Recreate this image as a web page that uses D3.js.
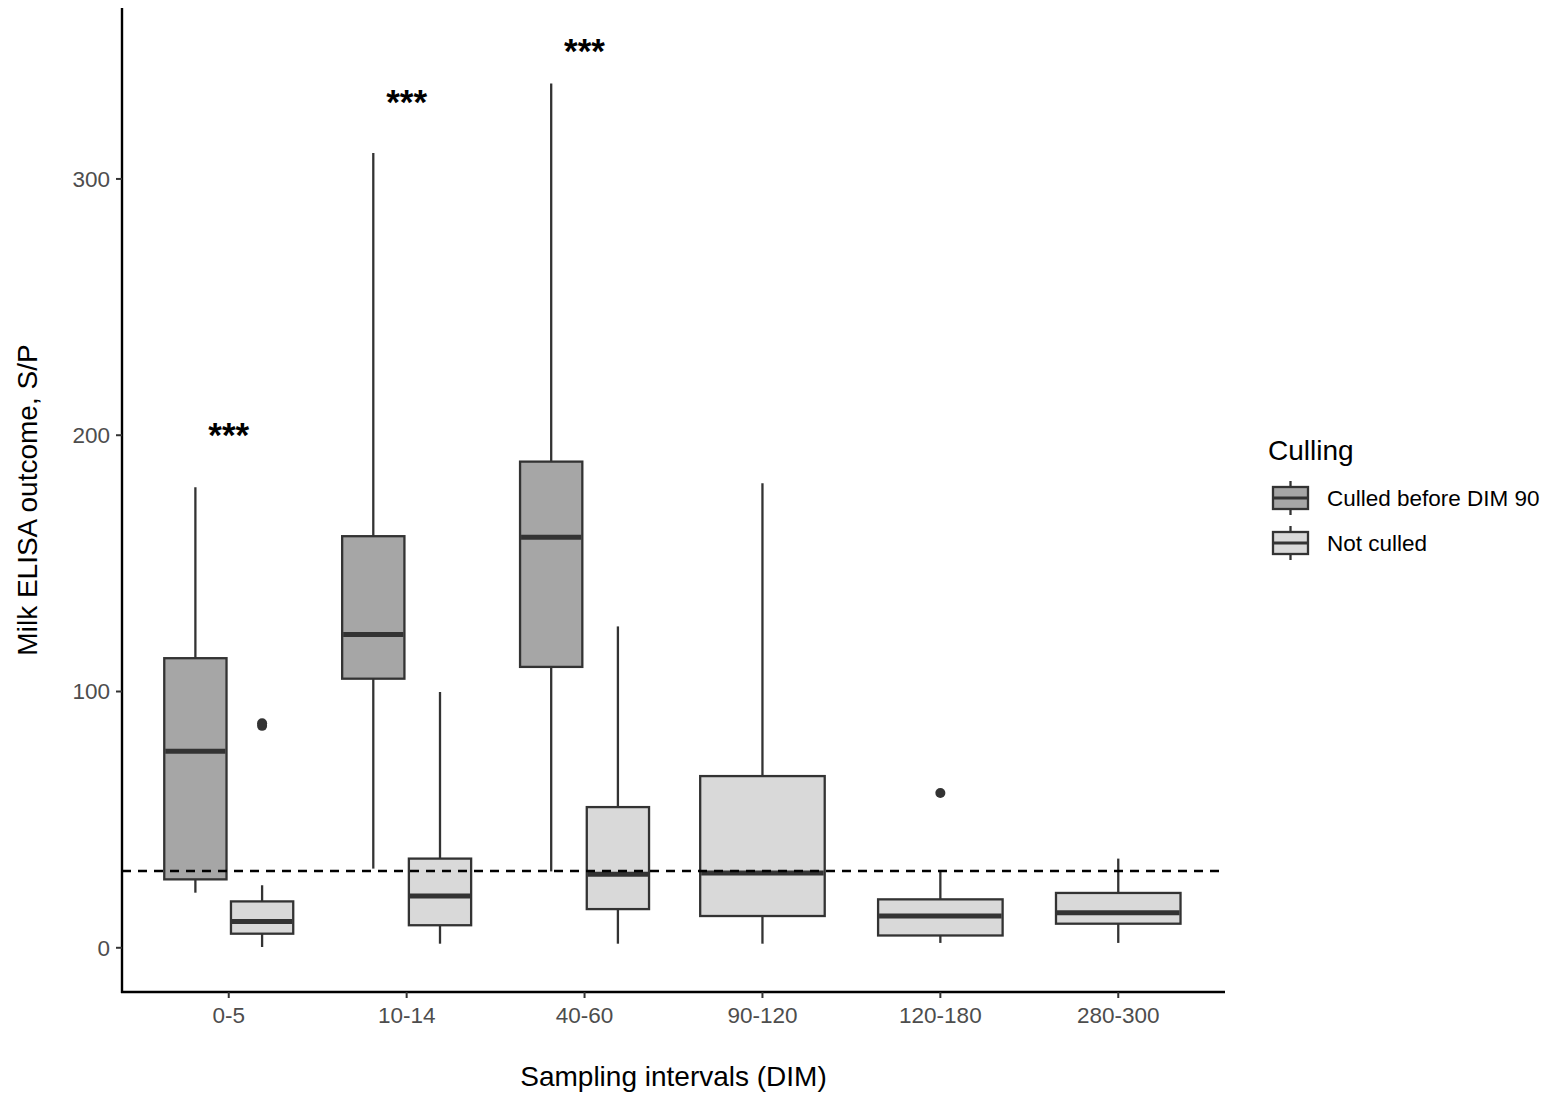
<!DOCTYPE html>
<html>
<head>
<meta charset="utf-8">
<script src="https://d3js.org/d3.v7.min.js"></script>
<style>
  html, body { margin: 0; padding: 0; background: #fff; }
  svg { display: block; font-family: 'Liberation Sans', Arial, sans-serif; }
  .tick-label { fill: #4d4d4d; font-size: 22.5px; }
  .legend-label { fill: #000; font-size: 22.5px; }
  .axis-title { fill: #000; font-size: 28px; }
  .box { stroke: #333; stroke-width: 2.3; }
  .whisker { stroke: #333; stroke-width: 2.3; }
  .median { stroke: #333; stroke-width: 5; }
</style>
</head>
<body>
<svg id="chart" width="1547" height="1098"></svg>
<script>
// values (S/P units)
const categories = ['0-5', '10-14', '40-60', '90-120', '120-180', '280-300'];
const groups = ['Culled before DIM 90', 'Not culled'];
const groupFill = ['#a6a6a6', '#d9d9d9'];

const culledCats = ['0-5', '10-14', '40-60'];
const culledLower = [21.5, 30.9, 29.8];
const culledQ1 = [26.7, 105.0, 109.6];
const culledMedian = [76.7, 122.2, 160.2];
const culledQ3 = [113.0, 160.6, 189.7];
const culledUpper = [179.7, 310.1, 337.2];

const notCulledCats = categories;
const notCulledLower = [0.3, 1.6, 1.6, 1.6, 1.9, 1.9];
const notCulledQ1 = [5.5, 8.8, 15.1, 12.4, 4.8, 9.4];
const notCulledMedian = [10.3, 20.2, 28.7, 29.2, 12.4, 13.7];
const notCulledQ3 = [18.1, 34.8, 54.9, 67.0, 18.9, 21.4];
const notCulledUpper = [24.4, 99.8, 125.4, 181.3, 30.0, 34.8];

const outlierCats = ['0-5', '0-5', '120-180'];
const outlierValues = [86.6, 87.6, 60.4];

const sigCats = ['0-5', '10-14', '40-60'];
const sigValues = [200, 330, 350];
const sigLabel = '***';

const cutoff = 30;
const yTicks = [0, 100, 200, 300];

// plot panel
const panel = { left: 122, right: 1225, top: 8, bottom: 992 };

const svg = d3.select('#chart');
svg.append('rect').attr('width', 1547).attr('height', 1098).attr('fill', '#fff');

const x = d3.scalePoint().domain(categories).range([panel.left, panel.right]).padding(0.6);
const y = d3.scaleLinear().domain([-17.25, 366.7]).range([panel.bottom, panel.top]);
const step = x.step();

// build box rows; dodge only where both groups are present
const boxes = [];
culledCats.forEach((c, i) => boxes.push({
  cat: c, g: 0, lo: culledLower[i], q1: culledQ1[i], med: culledMedian[i], q3: culledQ3[i], hi: culledUpper[i]
}));
notCulledCats.forEach((c, i) => boxes.push({
  cat: c, g: 1, lo: notCulledLower[i], q1: notCulledQ1[i], med: notCulledMedian[i], q3: notCulledQ3[i], hi: notCulledUpper[i]
}));

function slot(cat, g) {
  const dodged = culledCats.includes(cat);
  if (!dodged) return { cx: x(cat), w: 0.7 * step };
  return { cx: x(cat) + (g === 0 ? -0.1875 : 0.1875) * step, w: 0.35 * step };
}
boxes.forEach(b => Object.assign(b, slot(b.cat, b.g)));

const plot = svg.append('g');

// whiskers
plot.selectAll('line.whisker-hi')
  .data(boxes).enter().append('line')
  .attr('class', 'whisker')
  .attr('x1', d => d.cx).attr('x2', d => d.cx)
  .attr('y1', d => y(d.q3)).attr('y2', d => y(d.hi));
plot.selectAll('line.whisker-lo')
  .data(boxes).enter().append('line')
  .attr('class', 'whisker')
  .attr('x1', d => d.cx).attr('x2', d => d.cx)
  .attr('y1', d => y(d.q1)).attr('y2', d => y(d.lo));

// boxes
plot.selectAll('rect.box')
  .data(boxes).enter().append('rect')
  .attr('class', 'box')
  .attr('x', d => d.cx - d.w / 2)
  .attr('width', d => d.w)
  .attr('y', d => y(d.q3))
  .attr('height', d => y(d.q1) - y(d.q3))
  .attr('fill', d => groupFill[d.g]);

// medians
plot.selectAll('line.median')
  .data(boxes).enter().append('line')
  .attr('class', 'median')
  .attr('x1', d => d.cx - d.w / 2 + 1).attr('x2', d => d.cx + d.w / 2 - 1)
  .attr('y1', d => y(d.med)).attr('y2', d => y(d.med));

// outliers (not culled group)
plot.selectAll('circle.outlier')
  .data(outlierCats.map((c, i) => ({ cat: c, v: outlierValues[i] })))
  .enter().append('circle')
  .attr('cx', d => slot(d.cat, 1).cx)
  .attr('cy', d => y(d.v))
  .attr('r', 5)
  .attr('fill', '#333');

// cut-off line
plot.append('line')
  .attr('x1', panel.left).attr('x2', panel.right)
  .attr('y1', y(cutoff)).attr('y2', y(cutoff))
  .attr('stroke', '#000').attr('stroke-width', 2.5)
  .attr('stroke-dasharray', '9,7');

// significance stars
plot.selectAll('text.sig')
  .data(sigCats.map((c, i) => ({ cat: c, v: sigValues[i] })))
  .enter().append('text')
  .attr('x', d => x(d.cat))
  .attr('y', d => y(d.v))
  .attr('dy', '0.34em')
  .attr('text-anchor', 'middle')
  .attr('font-size', 35)
  .attr('font-weight', 'bold')
  .attr('fill', '#000')
  .text(sigLabel);

// axes (drawn by hand to match ggplot classic theme)
const axes = svg.append('g');
axes.append('line').attr('x1', panel.left).attr('x2', panel.left)
  .attr('y1', panel.top).attr('y2', panel.bottom + 1)
  .attr('stroke', '#000').attr('stroke-width', 2.4);
axes.append('line').attr('x1', panel.left - 1).attr('x2', panel.right)
  .attr('y1', panel.bottom).attr('y2', panel.bottom)
  .attr('stroke', '#000').attr('stroke-width', 2.4);

const yt = axes.selectAll('g.ytick').data(yTicks).enter().append('g')
  .attr('transform', d => `translate(0,${y(d)})`);
yt.append('line').attr('x1', panel.left - 6).attr('x2', panel.left).attr('stroke', '#333').attr('stroke-width', 2);
yt.append('text').attr('class', 'tick-label')
  .attr('x', panel.left - 12).attr('dy', '0.35em').attr('text-anchor', 'end')
  .text(d => d);

const xt = axes.selectAll('g.xtick').data(categories).enter().append('g')
  .attr('transform', d => `translate(${x(d)},0)`);
xt.append('line').attr('y1', panel.bottom).attr('y2', panel.bottom + 6).attr('stroke', '#333').attr('stroke-width', 2);
xt.append('text').attr('class', 'tick-label')
  .attr('y', panel.bottom + 31).attr('text-anchor', 'middle')
  .text(d => d);

// axis titles
svg.append('text').attr('class', 'axis-title')
  .attr('x', (panel.left + panel.right) / 2).attr('y', 1086).attr('text-anchor', 'middle')
  .text('Sampling intervals (DIM)');
svg.append('text').attr('class', 'axis-title')
  .attr('transform', `translate(37,${(panel.top + panel.bottom) / 2}) rotate(-90)`)
  .attr('text-anchor', 'middle')
  .text('Milk ELISA outcome, S/P');

// legend
const legend = svg.append('g').attr('transform', 'translate(1268,0)');
legend.append('text').attr('class', 'axis-title').attr('x', 0).attr('y', 460).text('Culling');
const key = legend.selectAll('g.key').data(groups).enter().append('g')
  .attr('transform', (d, i) => `translate(0,${498 + i * 45})`);
key.append('line').attr('class', 'whisker').attr('x1', 22.5).attr('x2', 22.5).attr('y1', -17).attr('y2', 17);
key.append('rect').attr('class', 'box')
  .attr('x', 5).attr('y', -11).attr('width', 35).attr('height', 22)
  .attr('fill', (d, i) => groupFill[i]);
key.append('line').attr('class', 'median').style('stroke-width', 3)
  .attr('x1', 6).attr('x2', 39).attr('y1', 0).attr('y2', 0);
key.append('text').attr('class', 'legend-label')
  .attr('x', 59).attr('dy', '0.35em').text(d => d);
</script>
</body>
</html>
